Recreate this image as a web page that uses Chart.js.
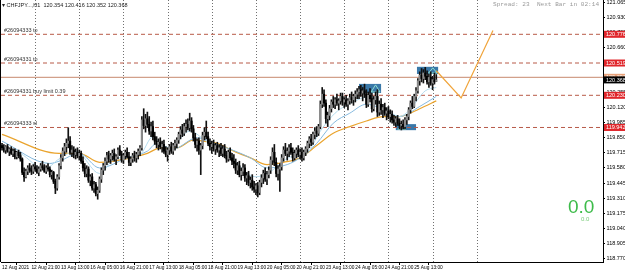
<!DOCTYPE html>
<html><head><meta charset="utf-8">
<script src="https://cdn.jsdelivr.net/npm/chart.js@4.4.1/dist/chart.umd.min.js"></script>
<style>
html,body{margin:0;padding:0;background:#fff;}
#wrap{position:relative;width:625px;height:272px;overflow:hidden;background:#fff;}
canvas{position:absolute;left:0;top:0;}
.t{position:absolute;white-space:pre;line-height:1;}
</style></head><body>
<div id="wrap">
<canvas id="c" width="625" height="272"></canvas>
<div class="t" style="left:2px;top:1.5px;font:5.5px 'Liberation Sans',Arial,sans-serif;color:#222;">▾ CHFJPY...,H1  120.354 120.416 120.352 120.368</div>
<div class="t" style="left:493px;top:1px;font:6.1px 'Liberation Mono','DejaVu Sans Mono',monospace;color:#9a9a9a;">Spread: 23  Next Bar in 02:14</div>
<div class="t" style="left:568px;top:196px;font:19px 'Liberation Sans',Arial,sans-serif;color:#3dbb4a;">0.0</div>
<div class="t" style="left:581px;top:216px;font:6px 'Liberation Sans',Arial,sans-serif;color:#7ccc7c;">0.0</div>
</div>
<script>
// ---- data ----
const candles = [
[119.78,119.80,119.74,119.76],[119.76,119.79,119.72,119.74],[119.74,119.78,119.71,119.77],[119.77,119.79,119.72,119.73],
[119.73,119.76,119.69,119.75],[119.75,119.77,119.70,119.71],[119.71,119.75,119.68,119.73],[119.73,119.75,119.66,119.68],
[119.68,119.73,119.66,119.72],[119.72,119.74,119.67,119.69],[119.69,119.72,119.64,119.66],[119.66,119.67,119.52,119.54],
[119.54,119.58,119.46,119.50],[119.50,119.57,119.49,119.55],[119.55,119.60,119.52,119.58],[119.58,119.62,119.54,119.56],
[119.56,119.60,119.52,119.55],[119.55,119.61,119.53,119.59],[119.59,119.63,119.55,119.57],[119.57,119.60,119.53,119.54],
[119.54,119.59,119.51,119.57],[119.57,119.62,119.55,119.60],[119.60,119.64,119.56,119.58],[119.58,119.61,119.54,119.55],
[119.55,119.60,119.53,119.58],[119.58,119.62,119.55,119.57],[119.57,119.59,119.50,119.52],[119.52,119.56,119.48,119.54],
[119.54,119.55,119.44,119.46],[119.46,119.48,119.35,119.40],[119.40,119.52,119.38,119.50],[119.50,119.62,119.48,119.60],
[119.60,119.70,119.57,119.67],[119.67,119.76,119.64,119.73],[119.73,119.80,119.69,119.77],[119.77,119.84,119.72,119.80],
[119.80,119.94,119.76,119.82],[119.82,119.86,119.70,119.72],[119.72,119.78,119.68,119.74],[119.74,119.77,119.67,119.70],
[119.70,119.75,119.66,119.72],[119.72,119.76,119.67,119.69],[119.69,119.74,119.65,119.71],[119.71,119.73,119.62,119.64],
[119.64,119.68,119.55,119.58],[119.58,119.62,119.50,119.53],[119.53,119.60,119.50,119.57],[119.57,119.59,119.45,119.47],
[119.47,119.52,119.42,119.50],[119.50,119.53,119.38,119.40],[119.40,119.46,119.36,119.43],[119.43,119.45,119.33,119.35],
[119.35,119.41,119.30,119.38],[119.38,119.50,119.36,119.48],[119.48,119.58,119.45,119.56],[119.56,119.62,119.52,119.60],
[119.60,119.67,119.56,119.64],[119.64,119.72,119.61,119.69],[119.69,119.73,119.63,119.66],[119.66,119.71,119.62,119.69],
[119.69,119.74,119.65,119.71],[119.71,119.75,119.64,119.66],[119.66,119.70,119.61,119.68],[119.68,119.76,119.66,119.74],
[119.74,119.78,119.69,119.70],[119.70,119.73,119.63,119.65],[119.65,119.71,119.62,119.69],[119.69,119.74,119.66,119.72],
[119.72,119.76,119.67,119.68],[119.68,119.72,119.60,119.63],[119.63,119.68,119.60,119.66],[119.66,119.71,119.63,119.69],
[119.69,119.73,119.64,119.67],[119.67,119.72,119.63,119.70],[119.70,119.75,119.66,119.73],[119.73,119.78,119.69,119.76],
[119.76,120.04,119.74,120.01],[120.01,120.11,119.93,119.96],[119.96,120.06,119.90,120.02],[120.02,120.08,119.94,119.97],
[119.97,120.04,119.88,119.91],[119.91,119.99,119.86,119.95],[119.95,120.00,119.83,119.86],[119.86,119.90,119.79,119.82],
[119.82,119.86,119.76,119.79],[119.79,119.84,119.74,119.81],[119.81,119.85,119.75,119.77],[119.77,119.82,119.72,119.79],
[119.79,119.83,119.71,119.73],[119.73,119.77,119.68,119.70],[119.70,119.76,119.64,119.74],[119.74,119.79,119.70,119.77],
[119.77,119.81,119.71,119.73],[119.73,119.80,119.70,119.78],[119.78,119.83,119.74,119.80],[119.80,119.85,119.76,119.83],
[119.83,119.90,119.80,119.88],[119.88,119.95,119.84,119.92],[119.92,119.97,119.86,119.89],[119.89,119.98,119.87,119.95],
[119.95,120.01,119.90,119.97],[119.97,120.02,119.92,119.94],[119.94,120.07,119.91,120.00],[120.00,120.03,119.90,119.93],
[119.93,119.96,119.82,119.85],[119.85,119.89,119.76,119.79],[119.79,119.84,119.73,119.82],[119.82,119.85,119.70,119.74],
[119.74,119.80,119.52,119.78],[119.78,119.90,119.75,119.87],[119.87,119.94,119.83,119.90],[119.90,120.00,119.84,119.86],
[119.86,119.90,119.78,119.80],[119.80,119.84,119.74,119.77],[119.77,119.82,119.71,119.79],[119.79,119.83,119.73,119.75],
[119.75,119.80,119.70,119.78],[119.78,119.81,119.72,119.74],[119.74,119.79,119.68,119.76],[119.76,119.80,119.69,119.71],
[119.71,119.78,119.68,119.75],[119.75,119.79,119.67,119.69],[119.69,119.73,119.63,119.66],[119.66,119.74,119.64,119.72],
[119.72,119.76,119.65,119.67],[119.67,119.71,119.61,119.64],[119.64,119.70,119.58,119.62],[119.62,119.66,119.53,119.56],
[119.56,119.63,119.52,119.60],[119.60,119.64,119.50,119.52],[119.52,119.58,119.47,119.55],[119.55,119.62,119.51,119.58],
[119.58,119.61,119.46,119.49],[119.49,119.54,119.43,119.51],[119.51,119.55,119.42,119.45],[119.45,119.50,119.40,119.47],
[119.47,119.52,119.38,119.41],[119.41,119.46,119.36,119.39],[119.39,119.44,119.34,119.42],[119.42,119.45,119.32,119.36],
[119.36,119.47,119.34,119.45],[119.45,119.52,119.41,119.49],[119.49,119.56,119.44,119.53],[119.53,119.58,119.46,119.48],
[119.48,119.55,119.43,119.52],[119.52,119.59,119.49,119.56],[119.56,119.68,119.53,119.65],[119.65,119.76,119.61,119.72],
[119.72,119.79,119.60,119.63],[119.63,119.67,119.50,119.53],[119.53,119.60,119.47,119.57],[119.57,119.62,119.37,119.59],
[119.59,119.70,119.56,119.67],[119.67,119.77,119.64,119.74],[119.74,119.80,119.69,119.71],[119.71,119.76,119.65,119.73],
[119.73,119.79,119.68,119.76],[119.76,119.80,119.70,119.72],[119.72,119.76,119.64,119.67],[119.67,119.74,119.65,119.71],
[119.71,119.76,119.67,119.74],[119.74,119.78,119.68,119.70],[119.70,119.75,119.66,119.72],[119.72,119.76,119.64,119.67],
[119.67,119.74,119.65,119.72],[119.72,119.77,119.69,119.75],[119.75,119.82,119.72,119.80],[119.80,119.86,119.76,119.84],
[119.84,119.88,119.78,119.81],[119.81,119.90,119.79,119.88],[119.88,119.94,119.84,119.91],[119.91,119.95,119.86,119.89],
[119.89,119.97,119.87,119.95],[119.95,120.18,119.93,120.15],[120.15,120.30,120.12,120.24],[120.24,120.28,120.13,120.16],
[120.16,120.19,119.98,120.02],[120.02,120.08,119.95,120.05],[120.05,120.14,120.01,120.11],[120.11,120.19,120.08,120.17],
[120.17,120.22,120.12,120.15],[120.15,120.21,120.11,120.19],[120.19,120.24,120.14,120.16],[120.16,120.20,120.10,120.18],
[120.18,120.25,120.15,120.22],[120.22,120.25,120.14,120.17],[120.17,120.21,120.12,120.19],[120.19,120.23,120.13,120.15],
[120.15,120.20,120.10,120.18],[120.18,120.24,120.15,120.21],[120.21,120.26,120.16,120.19],[120.19,120.24,120.14,120.22],
[120.22,120.27,120.17,120.24],[120.24,120.29,120.20,120.26],[120.26,120.31,120.20,120.28],[120.28,120.32,120.22,120.25],
[120.25,120.30,120.18,120.27],[120.27,120.33,120.21,120.24],[120.24,120.28,120.12,120.15],[120.15,120.26,120.13,120.23],
[120.23,120.29,120.17,120.20],[120.20,120.25,120.08,120.11],[120.11,120.22,120.09,120.19],[120.19,120.26,120.15,120.22],
[120.22,120.28,120.04,120.08],[120.08,120.18,120.05,120.15],[120.15,120.20,120.06,120.10],[120.10,120.15,120.03,120.12],
[120.12,120.16,120.05,120.07],[120.07,120.12,120.01,120.09],[120.09,120.13,120.02,120.04],[120.04,120.10,119.99,120.06],
[120.06,120.09,119.98,120.01],[120.01,120.05,119.96,119.99],[119.99,120.04,119.95,120.02],[120.02,120.05,119.96,119.98],
[119.98,120.02,119.93,119.96],[119.96,120.00,119.92,119.97],[119.97,120.01,119.93,119.95],[119.95,120.03,119.93,120.01],
[120.01,120.06,119.97,120.04],[120.04,120.12,120.01,120.10],[120.10,120.18,120.07,120.16],[120.16,120.22,120.11,120.13],
[120.13,120.24,120.12,120.22],[120.22,120.30,120.18,120.27],[120.27,120.38,120.25,120.36],[120.36,120.44,120.32,120.41],
[120.41,120.47,120.35,120.38],[120.38,120.46,120.34,120.43],[120.43,120.48,120.37,120.40],[120.40,120.45,120.33,120.35],
[120.35,120.42,120.30,120.39],[120.39,120.44,120.32,120.34],[120.34,120.40,120.28,120.37],[120.37,120.43,120.33,120.35],
[120.354,120.416,120.352,120.368]
];
const maSlow = [[0,119.88],[31,119.71],[42,119.71],[53,119.63],[70,119.67],[79,119.71],[86,119.76],[95,119.76],[104,119.83],[109,119.82],[117,119.80],[126,119.73],[135,119.67],[144,119.61],[153,119.63],[162,119.67],[171,119.78],[180,119.89],[189,119.95],[198,120.00],[207,120.04],[216,120.04],[227,120.11],[236,120.18]];
const maMid = [[0,119.82],[26,119.62],[31,119.64],[42,119.71],[53,119.58],[68,119.67],[79,119.73],[84,119.80],[93,119.75],[106,119.85],[117,119.79],[135,119.67],[144,119.58],[155,119.61],[162,119.67],[171,119.80],[180,119.98],[189,120.07],[198,120.15],[205,120.12],[216,120.04],[227,120.13],[236,120.22]];
const maFast = [[0,119.77],[10,119.71],[23,119.57],[31,119.66],[40,119.73],[53,119.53],[61,119.66],[75,119.70],[82,119.86],[90,119.73],[102,119.91],[111,119.82],[121,119.73],[138,119.50],[146,119.55],[157,119.68],[165,119.70],[173,119.91],[181,120.07],[192,120.18],[200,120.22],[208,120.12],[216,120.04],[221,120.09],[230,120.27],[236,120.30]];
const xTickBars = [0,16,32,48,64,80,96,112,128,144,160,176,192,208,224];
const xTickLabels = ["12 Aug 2021","12 Aug 21:00","13 Aug 13:00","16 Aug 05:00","16 Aug 21:00","17 Aug 13:00","18 Aug 05:00","18 Aug 21:00","19 Aug 13:00","20 Aug 05:00","20 Aug 21:00","23 Aug 13:00","24 Aug 05:00","24 Aug 21:00","25 Aug 13:00"];
const yTicks = [118.770,118.905,119.040,119.175,119.310,119.445,119.580,119.715,119.850,119.985,120.120,120.255,120.390,120.525,120.660,120.795,120.930,121.065];
const dayGridBars = [18,42,66,90,114,138,162,186,210,234,258];
const orderLevels = [120.776,120.519,120.230,119.942];
const orderLabels = ["#26094333 tp","#26094331 tp","#26094331 buy limit 0.39","#26094333 sl"];
const bidPrice = 120.368, askPrice = 120.391;
const boxes = [[194,206,120.332,120.251],[214,225,119.972,119.918],[225.5,237,120.485,120.421]];
const projBars = [236,249.5,266.8];
const projPrices = [120.45,120.206,120.809];

// ---- build ----
const X_MIN=-0.55, X_MAX=326.6, Y_MIN=118.738, Y_MAX=121.083;
const wickData = candles.map((c,i)=>({x:i,y:[c[2],c[1]]}));
const bodyData = candles.map((c,i)=>({x:i,y:[c[0],c[3]]}));
const bodyColors = candles.map(c=> c[3]>=c[0] ? '#8a8a8a' : '#000000');
const pts = a => a.map(p=>({x:p[0],y:p[1]}));
const hline = v => [{x:X_MIN,y:v},{x:X_MAX,y:v}];

const datasets = [
  {type:'bar', data:bodyData, backgroundColor:bodyColors, barThickness:1.5, grouped:false, order:1, borderWidth:0},
  {type:'bar', data:wickData, backgroundColor:'#111', barThickness:1, grouped:false, order:2, borderWidth:0},
  {type:'line', data:pts(maFast), borderColor:'#b4dcee', borderWidth:1, pointRadius:0, cubicInterpolationMode:'monotone', order:3},
  {type:'line', data:pts(maMid), borderColor:'#86badf', borderWidth:1, pointRadius:0, cubicInterpolationMode:'monotone', order:3},
  {type:'line', data:pts(maSlow), borderColor:'#eaa42e', borderWidth:1.2, pointRadius:0, cubicInterpolationMode:'monotone', order:3},
  {type:'line', data:projBars.map((b,i)=>({x:b,y:projPrices[i]})), borderColor:'#f0a43a', borderWidth:1.2, pointRadius:0, order:0},
  {type:'line', data:hline(askPrice), borderColor:'#d2a08a', borderWidth:1.2, pointRadius:0, order:5},
];
orderLevels.forEach(v=>datasets.push({type:'line', data:hline(v), borderColor:'#b85a48', borderWidth:1, borderDash:[4,3], pointRadius:0, order:6}));

const overlay = {
  id:'overlay',
  beforeDatasetsDraw(chart){
    const {ctx, chartArea:a, scales:{x,y}} = chart;
    ctx.save();
    ctx.strokeStyle='#707070'; ctx.lineWidth=1; ctx.setLineDash([1,2]);
    dayGridBars.forEach(b=>{const px=Math.round(x.getPixelForValue(b))+0.5; ctx.beginPath(); ctx.moveTo(px,a.top); ctx.lineTo(px,a.bottom); ctx.stroke();});
    ctx.setLineDash([]);
    boxes.forEach((bx,k)=>{
      const x1=x.getPixelForValue(bx[0]), x2=x.getPixelForValue(bx[1]);
      const y1=y.getPixelForValue(bx[2]), y2=y.getPixelForValue(bx[3]);
      ctx.fillStyle='#3a78a8'; ctx.fillRect(x1,y1,x2-x1,y2-y1);
      ctx.strokeStyle='#8fe0d0'; ctx.lineWidth=1;
      const w=x2-x1;
      const tx = k===1 ? x1+2 : x2-w*0.45;
      ctx.beginPath(); ctx.moveTo(tx, y2-1); ctx.lineTo(tx+w*0.2, y1+1); ctx.lineTo(tx+w*0.4, y2-1); ctx.closePath(); ctx.stroke();
    });
    ctx.restore();
  },
  afterDraw(chart){
    const {ctx, chartArea:a, scales:{x,y}} = chart;
    ctx.save();
    ctx.font = "5.5px 'Liberation Sans', Arial, sans-serif";
    ctx.fillStyle = '#333'; ctx.textBaseline='bottom'; ctx.textAlign='left';
    orderLevels.forEach((v,i)=>{ctx.fillText(orderLabels[i], a.left+3, y.getPixelForValue(v)-1);});
    const tag = (v,bg,fg)=>{
      const py=y.getPixelForValue(v);
      ctx.fillStyle=bg; ctx.fillRect(a.right+1, py-3.5, 21, 7);
      ctx.fillStyle=fg; ctx.textBaseline='middle'; ctx.fillText(v.toFixed(3), a.right+3, py+0.3);
    };
    orderLevels.forEach(v=>tag(v,'#e0262b','#fff'));
    tag(askPrice,'#e8a27a','#fff');
    tag(bidPrice,'#000','#fff');
    ctx.fillStyle='#000'; ctx.fillRect(0,0,1,a.bottom);
    ctx.restore();
  }
};

new Chart(document.getElementById('c'), {
  type:'bar',
  data:{datasets},
  options:{
    responsive:false, animation:false, events:[],
    layout:{padding:{left:1,right:0,top:0,bottom:0}, autoPadding:false},
    plugins:{legend:{display:false}, tooltip:{enabled:false}},
    scales:{
      x:{type:'linear', position:'bottom', min:X_MIN, max:X_MAX, offset:false,
        afterBuildTicks:s=>{s.ticks = xTickBars.map(v=>({value:v}));},
        afterFit:s=>{s.height=10; s.paddingLeft=0; s.paddingRight=0;},
        ticks:{autoSkip:false, maxRotation:0, minRotation:0, align:'start', padding:0, color:'#000',
          font:{size:4.8, family:"'Liberation Sans', Arial, sans-serif"},
          callback:(v,i)=>xTickLabels[i]},
        grid:{drawOnChartArea:false, drawTicks:true, tickLength:3, color:'#000'},
        border:{display:true, color:'#000', width:1}},
      y:{type:'linear', position:'right', min:Y_MIN, max:Y_MAX,
        afterBuildTicks:s=>{s.ticks = yTicks.map(v=>({value:v}));},
        afterFit:s=>{s.width=22; s.paddingTop=0; s.paddingBottom=0;},
        ticks:{autoSkip:false, padding:1.5, color:'#000',
          font:{size:5.5, family:"'Liberation Sans', Arial, sans-serif"},
          callback:v=>Number(v).toFixed(3)},
        grid:{drawOnChartArea:false, drawTicks:true, tickLength:2, color:'#000'},
        border:{display:true, color:'#000', width:1}}
    }
  },
  plugins:[overlay]
});
</script>
</body></html>
